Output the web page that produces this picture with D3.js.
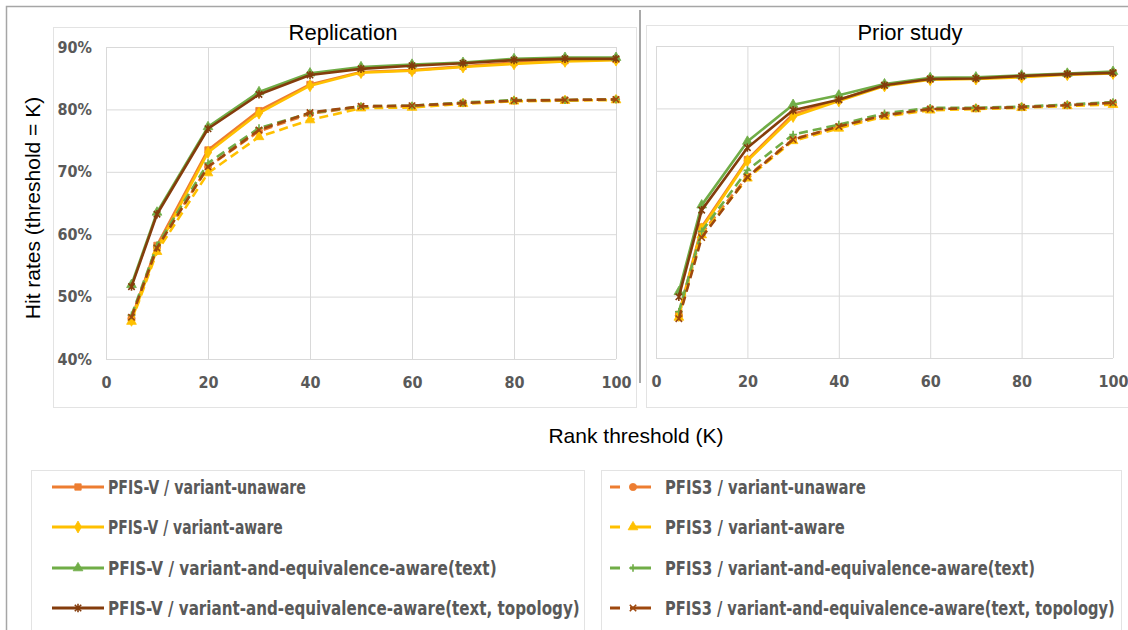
<!DOCTYPE html>
<html>
<head>
<meta charset="utf-8">
<script src="https://cdn.jsdelivr.net/npm/d3@7"></script>
<style>
  body { margin: 0; background: #fff; }
  svg { display: block; }
  .tick text { font-family: "Liberation Sans Narrow", "DejaVu Sans Condensed", sans-serif; font-weight: bold; font-size: 16px; fill: #595959; }
  .tick line { stroke: #d9d9d9; }
  .domain { display: none; }
  .title { font-family: "Liberation Sans", Arial, sans-serif; font-size: 21px; fill: #000; }
  .ptitle { font-family: "Liberation Sans", Arial, sans-serif; font-size: 22px; fill: #000; }
  .legend-text { font-family: "Liberation Sans Narrow", "DejaVu Sans Condensed", sans-serif; font-weight: bold; font-size: 19px; fill: #595959; }
</style>
</head>
<body>
<svg id="chart" width="1128" height="630"></svg>
<script>
// rank thresholds K
var rankK = [5, 10, 20, 30, 40, 50, 60, 70, 80, 90, 100];
var xTicks = [0, 20, 40, 60, 80, 100];
var yTicks = [0.4, 0.5, 0.6, 0.7, 0.8, 0.9];

var seriesNames = [
  "PFIS-V / variant-unaware",
  "PFIS-V / variant-aware",
  "PFIS-V / variant-and-equivalence-aware(text)",
  "PFIS-V / variant-and-equivalence-aware(text, topology)",
  "PFIS3 / variant-unaware",
  "PFIS3 / variant-aware",
  "PFIS3 / variant-and-equivalence-aware(text)",
  "PFIS3 / variant-and-equivalence-aware(text, topology)"
];

// Replication panel (hit rate in %)
var repVUnaware  = [46.5, 58.2, 73.5, 79.8, 84.0, 86.0, 86.3, 86.9, 87.5, 87.8, 88.0];
var repVAware    = [46.2, 57.6, 73.1, 79.4, 83.8, 85.9, 86.2, 86.8, 87.3, 87.7, 87.9];
var repVText     = [51.9, 63.5, 77.2, 82.8, 85.8, 86.8, 87.2, 87.5, 88.1, 88.3, 88.3];
var repVTopo     = [51.6, 63.2, 76.9, 82.4, 85.5, 86.5, 87.0, 87.4, 87.9, 88.1, 88.1];
var rep3Unaware  = [46.5, 58.0, 70.8, 76.5, 79.3, 80.4, 80.5, 81.0, 81.4, 81.5, 81.6];
var rep3Aware    = [46.0, 57.2, 69.8, 75.6, 78.3, 80.2, 80.3, 80.9, 81.3, 81.4, 81.5];
var rep3Text     = [47.0, 58.2, 71.4, 77.0, 79.4, 80.5, 80.6, 81.1, 81.5, 81.5, 81.6];
var rep3Topo     = [46.7, 57.8, 70.8, 76.7, 79.5, 80.5, 80.6, 81.0, 81.4, 81.5, 81.6];

// Prior study panel (hit rate in %)
var priVUnaware  = [47.0, 61.0, 71.8, 79.1, 81.4, 83.7, 84.7, 84.8, 85.1, 85.5, 85.7];
var priVAware    = [46.8, 60.7, 71.6, 78.7, 81.2, 83.6, 84.6, 84.7, 85.0, 85.4, 85.6];
var priVText     = [50.6, 64.5, 74.7, 80.6, 82.1, 83.9, 84.9, 85.0, 85.3, 85.6, 85.9];
var priVTopo     = [49.8, 63.7, 73.7, 79.7, 81.4, 83.7, 84.7, 84.8, 85.2, 85.5, 85.7];
var pri3Unaware  = [46.8, 60.0, 69.1, 75.1, 77.0, 78.9, 79.9, 80.0, 80.2, 80.5, 80.8];
var pri3Aware    = [46.5, 59.7, 68.8, 74.8, 76.8, 78.7, 79.7, 79.9, 80.1, 80.4, 80.6];
var pri3Text     = [47.4, 60.3, 70.1, 75.8, 77.4, 79.2, 80.1, 80.1, 80.3, 80.6, 81.0];
var pri3Topo     = [46.3, 59.3, 69.0, 75.0, 77.1, 78.9, 79.9, 80.0, 80.2, 80.5, 80.9];

var panelTitles = ["Replication", "Prior study"];
var panelData = [
  [repVUnaware, repVAware, repVText, repVTopo, rep3Unaware, rep3Aware, rep3Text, rep3Topo],
  [priVUnaware, priVAware, priVText, priVTopo, pri3Unaware, pri3Aware, pri3Text, pri3Topo]
];

// look of each series
var styles = [
  { color: "#ED7D31", dash: null, marker: "square" },
  { color: "#FFC000", dash: null, marker: "diamond" },
  { color: "#70AD47", dash: null, marker: "triangle" },
  { color: "#843C0C", dash: null, marker: "star" },
  { color: "#ED7D31", dash: "9,5", marker: "circle" },
  { color: "#FFC000", dash: "9,5", marker: "triangle" },
  { color: "#70AD47", dash: "9,5", marker: "plus" },
  { color: "#9E480E", dash: "9,5", marker: "x" }
];
// excel draws the series interleaved (two legend columns)
var drawOrder = [0, 4, 1, 5, 2, 6, 3, 7];
// legend label widths (px) so the narrow label font fits like in the original
var legendTextWidth = [198, 175, 389, 472, 201, 180, 370, 450];

var svg = d3.select("#chart");

// frames
svg.append("path").attr("d", "M6.5,640V6.5H1140").attr("fill", "none").attr("stroke", "#a6a6a6").attr("stroke-width", 1.5);
svg.append("rect").attr("x", 53.5).attr("y", 27.5).attr("width", 583).attr("height", 380).attr("fill", "none").attr("stroke", "#e3e3e3");
svg.append("rect").attr("x", 646.5).attr("y", 25.5).attr("width", 500).attr("height", 382).attr("fill", "none").attr("stroke", "#e3e3e3");
svg.append("line").attr("x1", 640).attr("x2", 640).attr("y1", 10).attr("y2", 383).attr("stroke", "#8c8c8c").attr("stroke-width", 1.5);
svg.append("rect").attr("x", 31.5).attr("y", 470.5).attr("width", 553).attr("height", 200).attr("fill", "none").attr("stroke", "#e3e3e3");
svg.append("rect").attr("x", 601.5).attr("y", 470.5).attr("width", 520).attr("height", 200).attr("fill", "none").attr("stroke", "#e3e3e3");

function markerPath(type, s) {
  if (type === "star") return "M" + -s + "," + -s + "L" + s + "," + s + "M" + -s + "," + s + "L" + s + "," + -s + "M0," + -s * 1.3 + "L0," + s * 1.3;
  if (type === "x") return "M" + -s + "," + -s + "L" + s + "," + s + "M" + -s + "," + s + "L" + s + "," + -s;
  if (type === "plus") return "M" + -s * 1.2 + ",0L" + s * 1.2 + ",0M0," + -s * 1.2 + "L0," + s * 1.2;
  var t = { square: d3.symbolSquare, diamond: d3.symbolDiamond, triangle: d3.symbolTriangle, circle: d3.symbolCircle }[type];
  return d3.symbol().type(t).size(s * s * 4)();
}
function drawMarker(g, st, cx, cy) {
  var stroked = (st.marker === "star" || st.marker === "x" || st.marker === "plus");
  g.append("path")
    .attr("transform", "translate(" + cx + "," + cy + ")")
    .attr("d", markerPath(st.marker, 3.2))
    .attr("fill", stroked ? "none" : st.color)
    .attr("stroke", st.color)
    .attr("stroke-width", stroked ? 1.6 : 0.8);
}

function drawPanel(p, x0, x1, y0, y1, titleX, withYLabels) {
  var x = d3.scaleLinear().domain([0, 100]).range([x0, x1]);
  var y = d3.scaleLinear().domain([0.4, 0.9]).range([y1, y0]);
  var g = svg.append("g");

  var ya = g.append("g").attr("transform", "translate(" + x0 + ",0)")
    .call(d3.axisLeft(y).tickValues(yTicks).tickSize(-(x1 - x0)).tickPadding(14).tickFormat(d3.format(".0%")));
  if (!withYLabels) ya.selectAll("text").remove();
  g.append("g").attr("transform", "translate(0," + y1 + ")")
    .call(d3.axisBottom(x).tickValues(xTicks).tickSize(-(y1 - y0)).tickPadding(18));

  var line = d3.line().x(function (d, i) { return x(rankK[i]); }).y(function (d) { return y(d / 100); });
  drawOrder.forEach(function (si) {
    var st = styles[si], vals = panelData[p][si];
    g.append("path").datum(vals)
      .attr("d", line)
      .attr("fill", "none")
      .attr("stroke", st.color)
      .attr("stroke-width", 2.6)
      .attr("stroke-dasharray", st.dash)
      .attr("stroke-linejoin", "round");
    var mg = g.append("g");
    vals.forEach(function (v, i) { drawMarker(mg, st, x(rankK[i]), y(v / 100)); });
  });

  g.append("text").attr("class", "ptitle")
    .attr("x", titleX).attr("y", 40)
    .attr("text-anchor", "middle").text(panelTitles[p]);
}

drawPanel(0, 106, 616, 47, 359, 343, true);
drawPanel(1, 656, 1113, 46, 358, 910, false);

// axis titles
svg.append("text").attr("class", "title")
  .attr("transform", "translate(40,208) rotate(-90)")
  .attr("text-anchor", "middle").text("Hit rates (threshold = K)");
svg.append("text").attr("class", "title")
  .attr("x", 636).attr("y", 443)
  .attr("text-anchor", "middle").text("Rank threshold (K)");

// legends
var legendRowY = [487, 527, 568, 608];
function legendLabel(g, i, x, y) {
  var t = g.append("text").attr("class", "legend-text").text(seriesNames[i]);
  // squeeze horizontally to the original label width
  var k = legendTextWidth[i] / t.node().getComputedTextLength();
  t.attr("transform", "translate(" + x + "," + (y + 7) + ") scale(" + k + ",1)");
}
[0, 1, 2, 3].forEach(function (i) {
  var st = styles[i], g = svg.append("g");
  g.append("line").attr("x1", 52).attr("x2", 104).attr("y1", legendRowY[i]).attr("y2", legendRowY[i])
    .attr("stroke", st.color).attr("stroke-width", 3);
  drawMarker(g, st, 78, legendRowY[i]);
  legendLabel(g, i, 108, legendRowY[i]);
});
[4, 5, 6, 7].forEach(function (i, r) {
  var st = styles[i], g = svg.append("g");
  g.append("line").attr("x1", 610).attr("x2", 620).attr("y1", legendRowY[r]).attr("y2", legendRowY[r])
    .attr("stroke", st.color).attr("stroke-width", 3);
  g.append("line").attr("x1", 630).attr("x2", 651).attr("y1", legendRowY[r]).attr("y2", legendRowY[r])
    .attr("stroke", st.color).attr("stroke-width", 3);
  drawMarker(g, st, 633, legendRowY[r]);
  legendLabel(g, i, 665, legendRowY[r]);
});
</script>
</body>
</html>
